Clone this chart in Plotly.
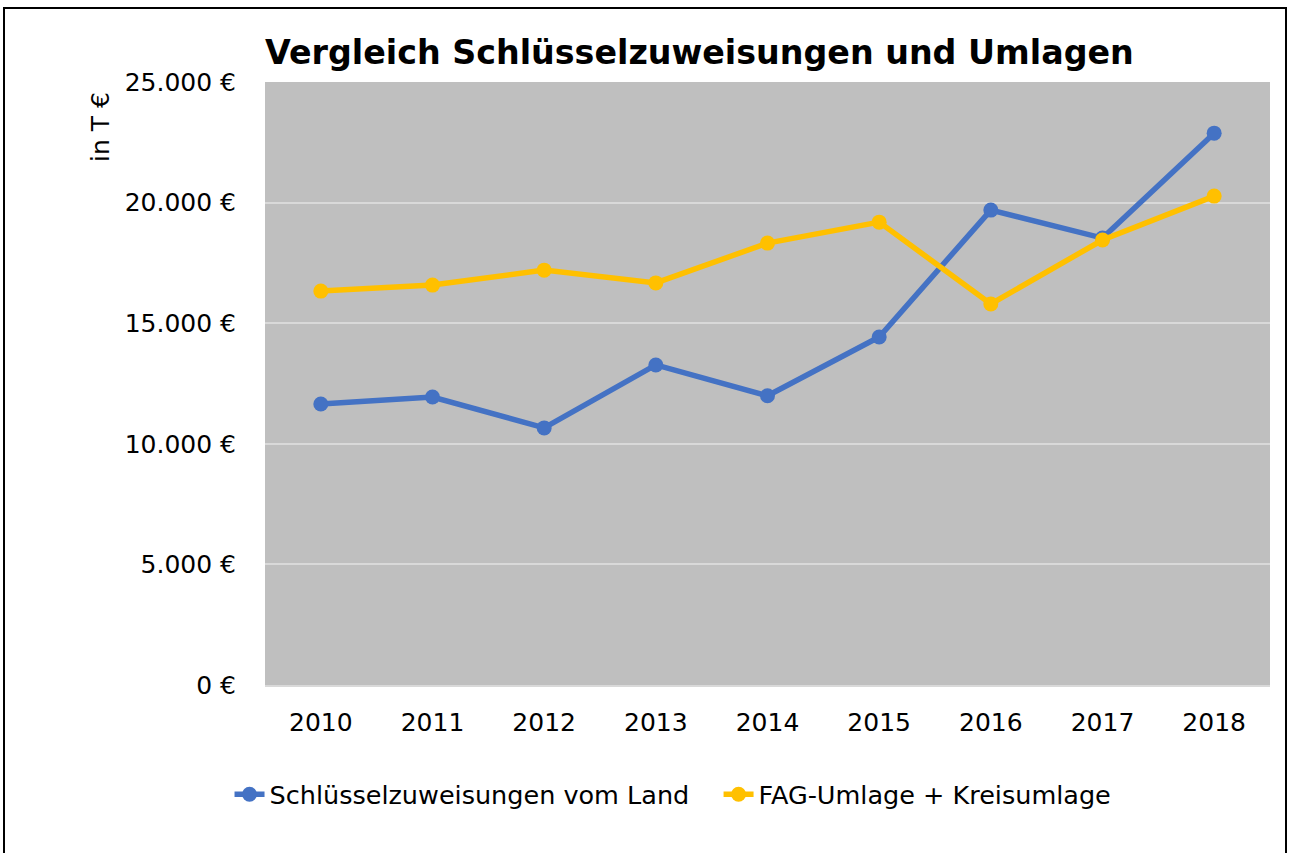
import plotly.graph_objects as go

# ---- Daten ----
jahre = ["2010", "2011", "2012", "2013", "2014", "2015", "2016", "2017", "2018"]
schluesselzuweisungen = [11650, 11940, 10660, 13270, 11990, 14430, 19690, 18530, 22880]
umlagen = [16330, 16580, 17200, 16670, 18320, 19190, 15800, 18450, 20270]

y_ticks = [0, 5000, 10000, 15000, 20000, 25000]
y_tick_text = ["0 €", "5.000 €", "10.000 €", "15.000 €", "20.000 €", "25.000 €"]

BLAU = "#4472C4"
GELB = "#FFC000"
FONT = "DejaVu Sans"
NBSP = "\u00a0"

fig = go.Figure()
fig.add_trace(go.Scatter(x=jahre, y=schluesselzuweisungen, mode="lines+markers",
                         name="Schlüsselzuweisungen vom Land" + NBSP * 3,
                         line=dict(color=BLAU, width=5.5), marker=dict(size=15, color=BLAU)))
fig.add_trace(go.Scatter(x=jahre, y=umlagen, mode="lines+markers",
                         name="FAG-Umlage + Kreisumlage",
                         line=dict(color=GELB, width=5.5), marker=dict(size=15, color=GELB)))

# Plotfläche: x 265-1270, y 82-685
fig.update_layout(
    width=1290, height=853,
    margin=dict(l=265, r=20, t=82, b=168),
    paper_bgcolor="white",
    plot_bgcolor="#BFBFBF",
    font=dict(family=FONT, size=25, color="black"),
    title=dict(text="<b>Vergleich Schlüsselzuweisungen und Umlagen</b>",
               x=265 / 1290, xanchor="left", y=1 - 52 / 853, yanchor="middle",
               font=dict(family=FONT, size=33.3, color="black")),
    showlegend=True,
    legend=dict(orientation="h", x=0.406, xanchor="center", y=-0.182, yanchor="middle",
                font=dict(size=25.5), bgcolor="rgba(0,0,0,0)"),
    xaxis=dict(type="category", range=[-0.5, 8.5], showgrid=False,
               showline=True, linecolor="#D9D9D9", linewidth=2,
               ticks="outside", ticklen=14, tickcolor="rgba(0,0,0,0)"),
    yaxis=dict(range=[0, 25000], tickvals=y_ticks, ticktext=y_tick_text,
               showgrid=True, gridcolor="#D9D9D9", gridwidth=2, zeroline=False,
               ticks="outside", ticklen=23, tickcolor="rgba(0,0,0,0)"),
    annotations=[dict(text="in T €", textangle=-90, xref="paper", yref="paper",
                      x=(100 - 265) / 1005, y=(685 - 127) / 603,
                      xanchor="center", yanchor="middle", showarrow=False,
                      font=dict(size=25))],
    shapes=[dict(type="rect", xref="paper", yref="paper",
                 x0=(4 - 265) / 1005, x1=(1286 - 265) / 1005,
                 y0=(685 - 870) / 603, y1=(685 - 8) / 603,
                 line=dict(color="black", width=2), fillcolor="rgba(0,0,0,0)")],
)

# Body-Rand der Seite entfernen, damit die Grafik bei (0,0) beginnt
fig.write_html("out.html", config={"displayModeBar": False},
               post_script="document.body.style.margin='0';")
